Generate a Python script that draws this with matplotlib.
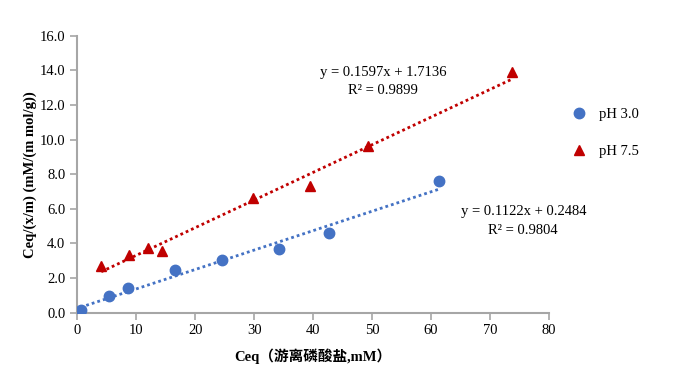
import matplotlib
matplotlib.use("Agg")
import matplotlib.pyplot as plt
import numpy as np

# Data
ph3_x = [0.58, 5.43, 8.66, 16.6, 24.6, 34.2, 42.7, 61.3]
ph3_y = [0.16, 0.98, 1.43, 2.47, 3.06, 3.70, 4.60, 7.60]
ph75_x = [4.07, 8.78, 12.05, 14.4, 29.8, 39.5, 49.4, 73.8]
ph75_y = [2.70, 3.33, 3.75, 3.58, 6.61, 7.32, 9.63, 13.9]
fit3 = (0.1122, 0.2484, 0.9804)
fit75 = (0.1597, 1.7136, 0.9899)
x_ticks = [0, 10, 20, 30, 40, 50, 60, 70, 80]
y_ticks = [0, 2, 4, 6, 8, 10, 12, 14, 16]

blue = "#4472C4"
red = "#C00000"
serif = ["Liberation Serif", "Noto Sans CJK SC"]
plt.rcParams['font.family'] = serif

fig = plt.figure(figsize=(6.93, 3.70), dpi=100)
ax = fig.add_axes([0.1115, 0.155, 0.6805, 0.7485])

ax.plot(ph3_x, ph3_y, 'o', color=blue, markersize=7.5, label="pH 3.0", zorder=3)
ax.plot(ph75_x, ph75_y, '^', color=red, markersize=7.5, label="pH 7.5", zorder=3)

for xs, (m, b, r2), c in [(ph3_x, fit3, blue), (ph75_x, fit75, red)]:
    xx = np.array([min(xs), max(xs)])
    ax.plot(xx, m * xx + b, linestyle=(0, (1, 1.1)), color=c, linewidth=2, zorder=2)

ax.set_xlim(0, 80)
ax.set_ylim(0, 16)
ax.set_xticks(x_ticks)
ax.set_yticks(y_ticks)
ax.set_yticklabels([f"{v:.1f}" for v in y_ticks])
for s in ["top", "right"]:
    ax.spines[s].set_visible(False)
for s in ["left", "bottom"]:
    ax.spines[s].set_color("#A6A6A6")
    ax.spines[s].set_linewidth(1.5)
ax.tick_params(colors="#A6A6A6", labelcolor="black", labelsize=10.5, length=5, width=1.2)

ax.set_xlabel("Ceq（游离磷酸盐,mM）", fontsize=10.5, fontweight="bold", labelpad=8)
ax.set_ylabel("Ceq/(x/m) (mM/(m mol/g))", fontsize=10.5, fontweight="bold", labelpad=2)

fig.text(383 / 693, 1 - 72.7 / 370, f"y = {fit75[0]:.4f}x + {fit75[1]:.4f}", ha="center", va="center", fontsize=10.5)
fig.text(383 / 693, 1 - 90 / 370, f"R² = {fit75[2]:.4f}", ha="center", va="center", fontsize=10.5)
fig.text(524 / 693, 1 - 212 / 370, f"y = {fit3[0]:.4f}x + {fit3[1]:.4f}", ha="center", va="center", fontsize=10.5)
fig.text(523 / 693, 1 - 230.7 / 370, f"R² = {fit3[2]:.4f}", ha="center", va="center", fontsize=10.5)

leg = ax.legend(loc="center left", bbox_to_anchor=(555 / 693, 1 - 133 / 370), bbox_transform=fig.transFigure,
                frameon=False, fontsize=10.5, labelspacing=1.6, handletextpad=0.6, handlelength=1.5)

fig.savefig("out.png", dpi=100)
